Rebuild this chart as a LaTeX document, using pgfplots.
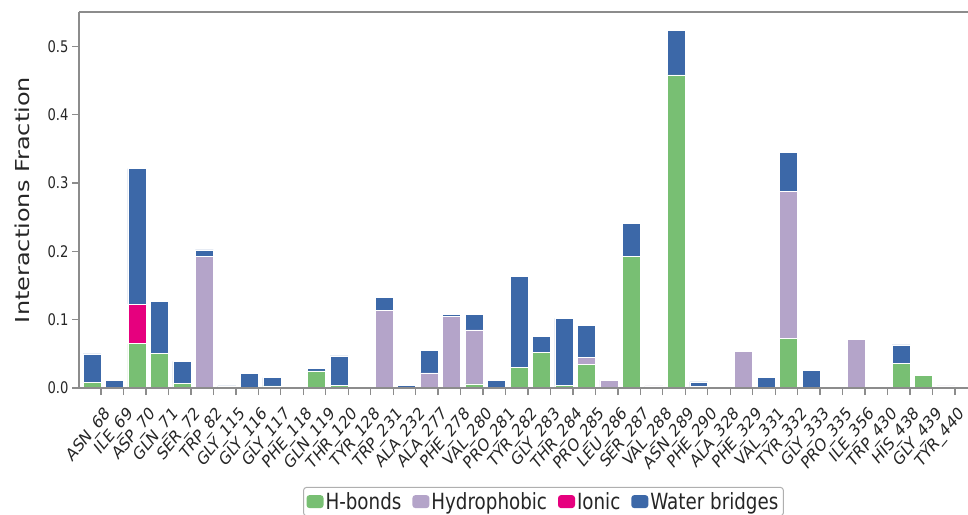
\documentclass[border=0pt]{standalone}
\usepackage{pgfplots}
\pgfplotsset{compat=1.18}
\usepackage{pgfplotstable}
\usepackage{fontspec}
\setmainfont{DejaVu Sans}[FakeStretch=0.82]
\newfontfamily\labelfont{DejaVu Sans}

\definecolor{hbond}{HTML}{78BF73}
\definecolor{hydro}{HTML}{B4A4C9}
\definecolor{ionic}{HTML}{E6007E}
\definecolor{water}{HTML}{3C68A8}
\definecolor{spine}{HTML}{8C8C8C}

% interaction fractions per residue: H-bonds, hydrophobic, ionic, water bridges
\pgfplotstableread{
x  hb     hyd    ion    wat
0  0.008  0      0      0.042
1  0      0      0      0.011
2  0.065  0      0.058  0.198
3  0.051  0      0      0.076
4  0.007  0      0      0.032
5  0      0.192  0      0.010
6  0      0      0      0.003
7  0      0      0      0.021
8  0.003  0      0      0.012
9  0      0.002  0      0
10 0.025  0      0      0.004
11 0.004  0      0      0.043
12 0      0      0      0.002
13 0      0.114  0      0.019
14 0      0      0      0.004
15 0      0.022  0      0.033
16 0      0.105  0      0.003
17 0.006  0.079  0      0.023
18 0      0      0      0.011
19 0.030  0      0      0.133
20 0.052  0      0      0.023
21 0.004  0      0      0.098
22 0.034  0.011  0      0.046
23 0      0.011  0      0.001
24 0.192  0      0      0.049
25 0      0.003  0      0
26 0.458  0      0      0.065
27 0.002  0      0      0.007
28 0      0      0      0.002
29 0      0.053  0      0
30 0      0      0      0.016
31 0.073  0.214  0      0.058
32 0      0      0      0.026
33 0      0.002  0      0
34 0      0.071  0      0
35 0      0.002  0      0
36 0.036  0      0      0.027
37 0.019  0      0      0
38 0      0.003  0      0
}\interactions

\begin{document}
\begin{tikzpicture}
\path[use as bounding box] (0pt,0pt) rectangle (968pt,514pt);
\clip (0pt,0pt) rectangle (968pt,514pt);
\begin{axis}[
  at={(79pt,126pt)}, anchor=south west,
  scale only axis, width=889pt, height=376pt,
  xmin=-0.98, xmax=38.58, ymin=0, ymax=0.55,
  ybar stacked, bar width=0.8, bar shift=-0.4,
  axis on top,
  axis x line*=box, axis y line*=left,
  axis line style={spine, line width=1.6pt},
  xtick pos=bottom, ytick pos=left,
  tick align=outside, major tick length=7pt,
  tick style={spine, line width=1.3pt},
  xtick={0,...,38},
  xticklabels={ASN\_68,ILE\_69,ASP\_70,GLN\_71,SER\_72,TRP\_82,GLY\_115,GLY\_116,GLY\_117,PHE\_118,GLN\_119,THR\_120,TYR\_128,TRP\_231,ALA\_232,ALA\_277,PHE\_278,VAL\_280,PRO\_281,TYR\_282,GLY\_283,THR\_284,PRO\_285,LEU\_286,SER\_287,VAL\_288,ASN\_289,PHE\_290,ALA\_328,PHE\_329,VAL\_331,TYR\_332,GLY\_333,PRO\_335,ILE\_356,TRP\_430,HIS\_438,GLY\_439,TYR\_440},
  ytick={0,0.1,0.2,0.3,0.4,0.5},
  yticklabel style={font=\fontsize{16}{16}\selectfont, text=black!85,
    /pgf/number format/.cd, fixed, fixed zerofill, precision=1, assume math mode=true},
  xticklabel style={font=\labelfont\fontsize{17.5}{17.5}\selectfont, text=black!85,
    anchor=north east, inner sep=1pt,
    xshift=2.5pt, yshift=-9pt, xscale=0.82, rotate=45},
  ylabel={\scalebox{1}[0.8]{\labelfont\fontsize{24}{24}\selectfont Interactions Fraction}},
  ylabel style={at={(axis description cs:-0.0641,0.5)}, anchor=center, text=black!85},
  legend columns=4,
  legend style={at={(0.252,-0.263)}, anchor=north west,
    draw=spine!70, rounded corners=3pt, line width=1pt,
    font=\fontsize{22.3}{22.3}\selectfont, text=black!85,
    inner xsep=3pt, inner ysep=3pt,
    /tikz/every even column/.append style={column sep=9pt}},
  legend image code/.code={\fill[#1, draw=none] (0pt,-6.5pt) rectangle (17pt,6.5pt);},
  every axis plot/.append style={draw=white, line width=0.6pt},
]
\addplot[fill=hbond] table[x=x, y=hb] {\interactions};
\addplot[fill=hydro] table[x=x, y=hyd] {\interactions};
\addplot[fill=ionic] table[x=x, y=ion] {\interactions};
\addplot[fill=water] table[x=x, y=wat] {\interactions};
\legend{H-bonds, Hydrophobic, Ionic, Water bridges}
\end{axis}
\end{tikzpicture}
\end{document}
